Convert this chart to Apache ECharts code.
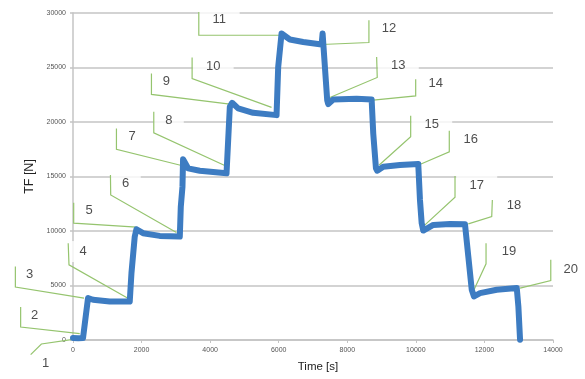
<!DOCTYPE html>
<html>
<head>
<meta charset="utf-8">
<script src="https://cdn.jsdelivr.net/npm/echarts@6/dist/echarts.min.js"></script>
<style>
  html, body { margin: 0; padding: 0; background: #fff; }
  #chart { width: 585px; height: 379px; }
</style>
</head>
<body>
<div id="chart"></div>
<script>
// 曲线数据（时间 s, 力 N）
const timeS = [0, 150, 292, 371, 438, 584, 1071, 1655,
  1705, 1801, 1851, 2044, 2531, 3115,
  3144, 3193, 3210, 3356, 3698, 4478,
  4574, 4641, 4817, 5254, 5937,
  5985, 6083, 6325, 6714, 7251, 7280,
  7347, 7414, 7444, 7590, 8272, 8710,
  8757, 8836, 8874, 9049, 9536, 10070,
  10120, 10170, 10216, 10508, 10995, 11433,
  11530, 11630, 11696, 11871, 12359, 12943,
  12990, 13039]
const forceN = [180, 150, 180, 2160, 3846, 3690, 3535, 3535,
  6136, 9488, 10165, 9800, 9552, 9488,
  12235, 14067, 16576, 15750, 15530, 15290,
  21390, 21760, 21250, 20840, 20630,
  25060, 28115, 27565, 27345, 27107, 28115,
  25060, 22006, 21640, 22070, 22126, 22070,
  18957, 15750, 15530, 15900, 16054, 16146,
  12850, 10715, 10040, 10560, 10650, 10620,
  7656, 4606, 3990, 4300, 4606, 4762,
  3077, 27]

// 坐标轴刻度
const xTicks = [0, 2000, 4000, 6000, 8000, 10000, 12000, 14000]
const yTicks = [0, 5000, 10000, 15000, 20000, 25000, 30000]

// 标注 1-20：文字位置和引线（数据坐标）
const calloutNames = ['1', '2', '3', '4', '5', '6', '7', '8', '9', '10',
  '11', '12', '13', '14', '15', '16', '17', '18', '19', '20']
const calloutText = [
  [-797, -2106], [-1118, 2253], [-1264, 5980], [292, 8114], [467, 11869],
  [1538, 14378], [1722, 18646], [2793, 20175], [2726, 23683], [4087, 25120],
  [4262, 29397], [9215, 28573], [9487, 25212], [10578, 23536], [10462, 19781],
  [11600, 18408], [11775, 14222], [12864, 12391], [12718, 8114], [14519, 6502]
]
const calloutLines = [
  [[-1235, -1346], [-922, -366], [-50, 30]],
  [[-1527, 3022], [-1527, 1191], [196, 577]],
  [[-1681, 6740], [-1681, 4854], [321, 3846]],
  [[-140, 8883], [-117, 6896], [1588, 3846]],
  [[20, 12601], [20, 10715], [1851, 10349]],
  [[1092, 15138], [1100, 13307], [3018, 9854]],
  [[1267, 19415], [1267, 17492], [3193, 15990]],
  [[2356, 20935], [2356, 19012], [4457, 15962]],
  [[2288, 24452], [2288, 22529], [4574, 21640]],
  [[3474, 25917], [3474, 23994], [5791, 21338]],
  [[3669, 30093], [3669, 27960], [6083, 27960]],
  [[8631, 29333], [8631, 27291], [7251, 27108]],
  [[8856, 25972], [8874, 24086], [7493, 22254]],
  [[9995, 23930], [9995, 22400], [8757, 22007]],
  [[9849, 20569], [9849, 18646], [8932, 16054]],
  [[10975, 19195], [10975, 17272], [10149, 16145]],
  [[11142, 15046], [11142, 13096], [10266, 10559]],
  [[12231, 12849], [12213, 11319], [11530, 10651]],
  [[12047, 8883], [12047, 6987], [11696, 4606]],
  [[13935, 7354], [13935, 5458], [13039, 4762]]
]

const chart = echarts.init(document.getElementById('chart'))

const gridColor = '#c4c4c4'
const fontFamily = 'Liberation Sans, Arial, sans-serif'

const curve = timeS.map((t, i) => [t, forceN[i]])

// 标注文字（白底遮住网格线，两位数框更宽）
const labelData = calloutText.map((p, i) => ({
  value: [p[0], p[1]],
  name: calloutNames[i],
  label: { width: calloutNames[i].length > 1 ? 41 : 30 }
}))

const options = {
  backgroundColor: '#FFFFFF',
  animation: false,
  grid: { left: 73, right: 32, top: 13, bottom: 39 },
  xAxis: {
    type: 'value',
    min: xTicks[0],
    max: xTicks[xTicks.length - 1],
    interval: xTicks[1] - xTicks[0],
    name: 'Time [s]',
    nameLocation: 'middle',
    nameGap: 21,
    nameTextStyle: { fontFamily, fontSize: 11.5, color: '#222', padding: [0, 0, 0, 10] },
    axisLine: { lineStyle: { color: gridColor, width: 1.5 } },
    axisTick: { show: true, length: 3, lineStyle: { color: gridColor } },
    axisLabel: { fontFamily, fontSize: 7, color: '#555', margin: 7, formatter: v => String(v) },
    splitLine: { show: false }
  },
  yAxis: {
    type: 'value',
    min: yTicks[0],
    max: yTicks[yTicks.length - 1],
    interval: yTicks[1] - yTicks[0],
    name: 'TF [N]',
    nameLocation: 'middle',
    nameGap: 33,
    nameTextStyle: { fontFamily, fontSize: 12.5, color: '#222' },
    axisLine: { show: true, lineStyle: { color: gridColor, width: 1.5 } },
    axisTick: { show: true, length: 3, lineStyle: { color: gridColor, width: 1.5 } },
    axisLabel: { fontFamily, fontSize: 7, color: '#555', margin: 7, formatter: v => String(v) },
    splitLine: { lineStyle: { color: gridColor, width: 1.5 } }
  },
  series: [
    {
      type: 'scatter',
      data: labelData,
      symbolSize: 0,
      silent: true,
      clip: false,
      z: 2,
      label: {
        show: true,
        position: 'inside',
        formatter: '{b}',
        fontFamily,
        fontSize: 13,
        color: '#222',
        backgroundColor: '#ffffff',
        height: 21,
        lineHeight: 21,
        align: 'center',
        verticalAlign: 'middle'
      }
    },
    {
      type: 'line',
      data: curve,
      symbol: 'none',
      silent: true,
      z: 4,
      lineStyle: { color: '#3d7cc2', width: 6, cap: 'round', join: 'round' }
    }
  ]
}

chart.setOption(options)

// 引线：用坐标轴换算成像素（可画到绘图区外）
chart.setOption({
  graphic: calloutLines.map(pts => ({
    type: 'polyline',
    silent: true,
    z: 3,
    shape: { points: pts.map(p => chart.convertToPixel({ gridIndex: 0 }, p)) },
    style: { stroke: '#95c46e', lineWidth: 1.2, fill: null }
  }))
})
</script>
</body>
</html>
